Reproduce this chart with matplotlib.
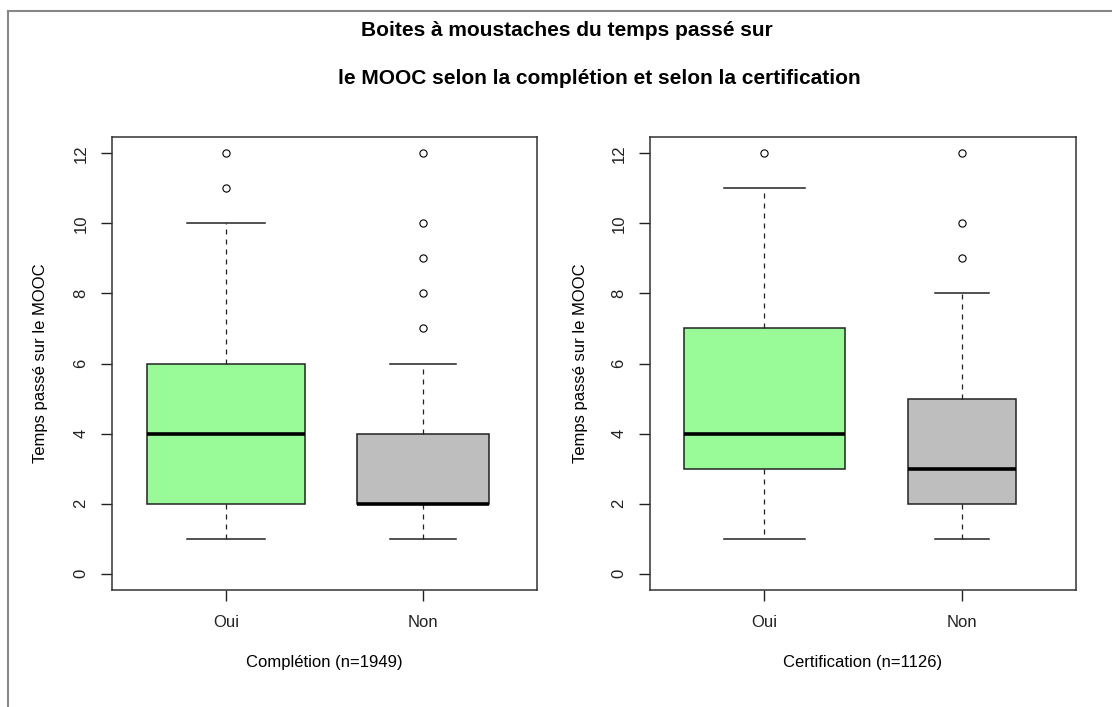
import numpy as np
import matplotlib.pyplot as plt
from matplotlib.lines import Line2D

plt.rcParams['font.family'] = ['Liberation Sans', 'DejaVu Sans']

# five-number summaries: (whislo, q1, med, q3, whishi)
groups = ['Oui', 'Non']
compl_stats = [(1, 2, 4, 6, 10), (1, 2, 2, 4, 6)]
compl_fliers = [[11, 12], [7, 8, 9, 10, 12]]
certif_stats = [(1, 3, 4, 7, 11), (1, 2, 3, 5, 8)]
certif_fliers = [[12], [9, 10, 12]]
xlabels = ['Complétion (n=1949)', 'Certification (n=1126)']
ylabel = 'Temps passé sur le MOOC'
title1 = 'Boites à moustaches du temps passé sur'
title2 = 'le MOOC selon la complétion et selon la certification'

box_colors = ['#98FB98', '#BEBEBE']


def make_stats(stats, fliers):
    out = []
    for (lo, q1, med, q3, hi), fl in zip(stats, fliers):
        out.append(dict(whislo=lo, q1=q1, med=med, q3=q3, whishi=hi, fliers=fl))
    return out


def draw_panel(ax, stats, fliers, widths, xlab):
    bp = ax.bxp(make_stats(stats, fliers), positions=[1, 2], widths=widths,
                capwidths=[w / 2 for w in widths], patch_artist=True,
                boxprops=dict(edgecolor='#222222', linewidth=1.1),
                medianprops=dict(color='black', linewidth=2.6),
                whiskerprops=dict(color='#222222', linewidth=0.9, linestyle=(0, (4, 4))),
                capprops=dict(color='#222222', linewidth=1.1),
                flierprops=dict(marker='o', markersize=5.2, markerfacecolor='none',
                                markeredgecolor='black', markeredgewidth=0.8))
    for patch, c in zip(bp['boxes'], box_colors):
        patch.set_facecolor(c)
    ax.set_xlim(0.42, 2.58)
    ax.set_ylim(-0.47, 12.47)
    ax.set_xticks([1, 2])
    ax.set_xticklabels(groups, fontsize=12)
    ax.set_yticks(np.arange(0, 13, 2))
    ax.set_yticklabels([str(v) for v in range(0, 13, 2)], rotation=90,
                       va='center', fontsize=12)
    ax.tick_params(axis='x', length=8, width=1, pad=10, colors='#222222')
    ax.tick_params(axis='y', length=8, width=1, pad=9, colors='#222222')
    for sp in ax.spines.values():
        sp.set_color('#333333')
        sp.set_linewidth(1.1)
    ax.set_xlabel(xlab, fontsize=12, va='center')
    ax.xaxis.set_label_coords(0.5, -0.161)
    ax.set_ylabel(ylabel, fontsize=12, va='center')


fig = plt.figure(figsize=(11.12, 7.07), dpi=100)
ax1 = fig.add_axes([0.1007, 0.1655, 0.3822, 0.6407])
ax2 = fig.add_axes([0.5845, 0.1655, 0.3831, 0.6407])

draw_panel(ax1, compl_stats, compl_fliers, [0.8, 0.67], xlabels[0])
draw_panel(ax2, certif_stats, certif_fliers, [0.817, 0.547], xlabels[1])
ax1.yaxis.set_label_coords(-0.169, 0.5)
ax2.yaxis.set_label_coords(-0.164, 0.5)

fig.text(567 / 1112, 1 - 30 / 707, title1, ha='center', va='center',
         fontsize=15, fontweight='bold')
fig.text(599 / 1112, 1 - 79 / 707, title2, ha='center', va='center',
         fontsize=15, fontweight='bold')

# grey frame along the top and left edges
fig.add_artist(Line2D([8 / 1112, 1], [1 - 11 / 707, 1 - 11 / 707],
                      transform=fig.transFigure, color='#888888', linewidth=1.5))
fig.add_artist(Line2D([8 / 1112, 8 / 1112], [0, 1 - 11 / 707],
                      transform=fig.transFigure, color='#888888', linewidth=1.5))

fig.savefig('out.png', dpi=100)
